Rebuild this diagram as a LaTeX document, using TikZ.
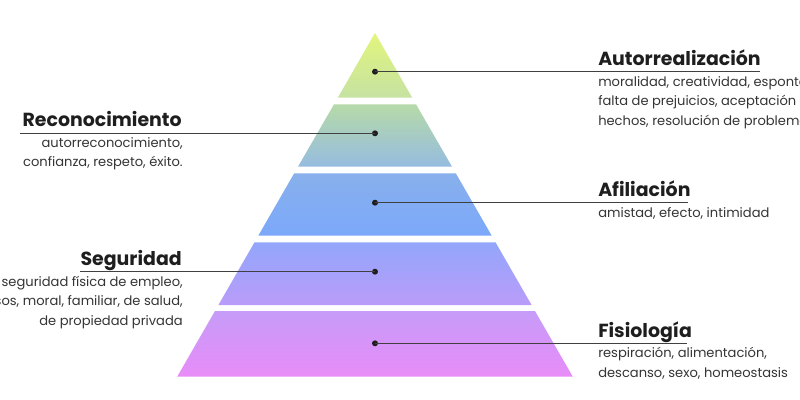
\documentclass[tikz,border=0pt]{standalone}
\usepackage{fontspec}
\setmainfont{Poppins}
\definecolor{cAt}{HTML}{E2F57C}
\definecolor{cAb}{HTML}{C6E2A2}
\definecolor{cBt}{HTML}{B6DAA8}
\definecolor{cBb}{HTML}{96BCE0}
\definecolor{cCt}{HTML}{88B0EC}
\definecolor{cCb}{HTML}{7CA8FA}
\definecolor{cDt}{HTML}{92A6FA}
\definecolor{cDb}{HTML}{BA9CFA}
\definecolor{cEt}{HTML}{C69CF8}
\definecolor{cEb}{HTML}{E88CF8}
\definecolor{ink}{HTML}{1E1E1E}
\tikzset{
  ttl/.style={font=\fontsize{14.2}{16}\selectfont\bfseries, inner sep=0pt, text=ink},
  bdy/.style={font=\fontsize{9.8}{14.6}\selectfont, inner sep=0pt, text=ink!90},
  lead/.style={draw=ink!85, line width=0.8pt},
  dotm/.style={circle, fill=ink, inner sep=0pt, minimum size=4.5pt},
}
\begin{document}
\begin{tikzpicture}[x=0.75pt,y=-0.75pt]
\useasboundingbox[fill=white] (0,0) rectangle (800,400);
% pyramid levels
\shade[top color=cAt, bottom color=cAb] (375,33) -- (412.2,97.7) -- (337.8,97.7) -- cycle;
\shade[top color=cBt, bottom color=cBb] (334,104.3) -- (416,104.3) -- (452,166.7) -- (298,166.7) -- cycle;
\shade[top color=cCt, bottom color=cCb] (294.2,173.3) -- (455.8,173.3) -- (491.7,235.7) -- (258.3,235.7) -- cycle;
\shade[top color=cDt, bottom color=cDb] (254.5,242.3) -- (495.5,242.3) -- (531.6,305) -- (218.4,305) -- cycle;
\shade[top color=cEt, bottom color=cEb] (215,311) -- (535,311) -- (572.8,376.7) -- (177.2,376.7) -- cycle;
% dots
\node[dotm] (d1) at (375,71.7) {};
\node[dotm] (d2) at (375,133.3) {};
\node[dotm] (d3) at (375,202.7) {};
\node[dotm] (d4) at (375,271.7) {};
\node[dotm] (d5) at (375,343.3) {};
% line ends
\coordinate (e1) at (760,71.7);
\coordinate (e2) at (20,133.3);
\coordinate (e3) at (688,202.7);
\coordinate (e4) at (80,271.7);
\coordinate (e5) at (687,343.3);
\draw[lead] (d1.center) -- (e1);
\draw[lead] (d2.center) -- (e2);
\draw[lead] (d3.center) -- (e3);
\draw[lead] (d4.center) -- (e4);
\draw[lead] (d5.center) -- (e5);
% titles
\node[ttl, anchor=base west] (t1) at (598,65) {Autorrealización};
\node[ttl, anchor=base east] (t2) at (182,126) {Reconocimiento};
\node[ttl, anchor=base west] (t3) at (598,196) {Afiliación};
\node[ttl, anchor=base east] (t4) at (182,265) {Seguridad};
\node[ttl, anchor=base west] (t5) at (598,337) {Fisiología};
% bodies
\node[bdy, anchor=north west, align=left] (b1) at (598,76) {moralidad, creatividad, espontaneidad,\\falta de prejuicios, aceptación de\\hechos, resolución de problemas};
\node[bdy, anchor=north east, align=right] (b2) at (183,137) {autorreconocimiento,\\confianza, respeto, éxito.};
\node[bdy, anchor=north west, align=left] (b3) at (598,207) {amistad, efecto, intimidad};
\node[bdy, anchor=north east, align=right] (b4) at (183,276) {seguridad física de empleo,\\de recursos, moral, familiar, de salud,\\de propiedad privada};
\node[bdy, anchor=north west, align=left] (b5) at (598,347) {respiración, alimentación,\\descanso, sexo, homeostasis};
\end{tikzpicture}
\end{document}
